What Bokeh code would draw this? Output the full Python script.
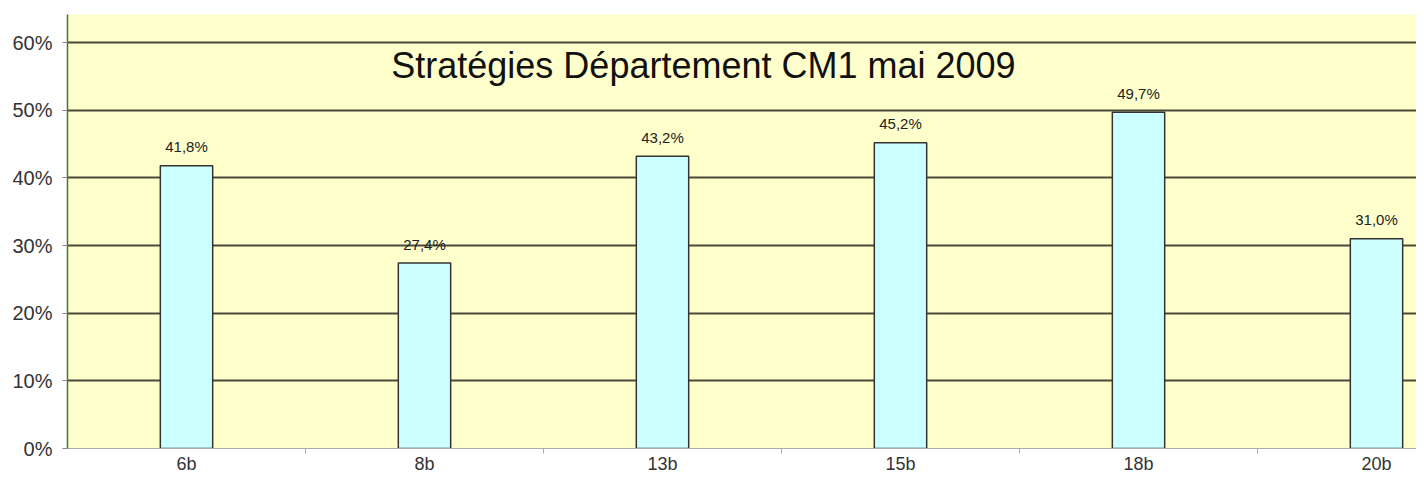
from bokeh.plotting import figure
from bokeh.models import ColumnDataSource, Range1d, FixedTicker, NumeralTickFormatter, Label
from bokeh.embed import file_html
from bokeh.resources import INLINE
from bokeh.core.properties import value

categories = ["6b", "8b", "13b", "15b", "18b", "20b"]
values = [41.8, 27.4, 43.2, 45.2, 49.7, 31.0]
labels = ["41,8%", "27,4%", "43,2%", "45,2%", "49,7%", "31,0%"]
title_text = "Stratégies Département CM1 mai 2009"

FONT = "Liberation Sans"

xs = [i + 0.5 for i in range(len(categories))]
fr = [v / 100 for v in values]
src = ColumnDataSource(dict(x=xs, top=fr, lab=labels))

p = figure(width=1416, height=476, output_backend="svg", toolbar_location=None,
           x_range=Range1d(0, 1349 / 238), y_range=Range1d(0, 0.6414),
           min_border_left=67, min_border_right=0, min_border_top=14, min_border_bottom=28)
p.background_fill_color = "#FFFFCC"
p.border_fill_color = "white"
p.outline_line_color = None

p.ygrid.ticker = FixedTicker(ticks=[0.1, 0.2, 0.3, 0.4, 0.5, 0.6])
p.ygrid.grid_line_color = "#4a4a3a"
p.ygrid.grid_line_width = 2
p.xgrid.grid_line_color = None

p.vbar(x="x", top="top", width=0.22, source=src, fill_color="#CCFFFF",
       line_color="#333333", line_width=1.5)

p.text(x="x", y="top", text="lab", source=src, text_align="center", text_baseline="middle",
       y_offset=-19, text_font=value(FONT), text_font_size="15px", text_color="#222222")

p.add_layout(Label(x=2.672, y=0.5660, text=title_text, text_align="center", text_baseline="middle",
                   text_font=FONT, text_font_size="36px", text_color="#111111"))

# y axis
p.yaxis.ticker = FixedTicker(ticks=[0, 0.1, 0.2, 0.3, 0.4, 0.5, 0.6])
p.yaxis.formatter = NumeralTickFormatter(format="0%")
p.yaxis.axis_line_color = "#3c7a3c"
p.yaxis.axis_line_width = 1.5
p.yaxis.major_tick_line_color = "#888888"
p.yaxis.major_tick_in = 0
p.yaxis.major_tick_out = 5
p.yaxis.minor_tick_line_color = None
p.yaxis.major_label_text_font = FONT
p.yaxis.major_label_text_font_size = "20px"
p.yaxis.major_label_text_color = "#333333"
p.yaxis.major_label_standoff = 10

# x axis: labels at category centres, tick marks at category boundaries
p.xaxis.ticker = FixedTicker(ticks=xs, minor_ticks=[1, 2, 3, 4, 5])
p.xaxis.major_label_overrides = {x: c for x, c in zip(xs, categories)}
p.xaxis.major_label_text_font = FONT
p.xaxis.major_label_text_font_size = "18px"
p.xaxis.major_label_text_color = "#333333"
p.xaxis.major_label_standoff = 0
p.xaxis.axis_line_color = "#aaaaaa"
p.xaxis.major_tick_line_color = None
p.xaxis.major_tick_in = 0
p.xaxis.major_tick_out = 0
p.xaxis.minor_tick_line_color = "#aaaaaa"
p.xaxis.minor_tick_in = 0
p.xaxis.minor_tick_out = 5

open("out.html", "w").write(file_html(p, INLINE))
